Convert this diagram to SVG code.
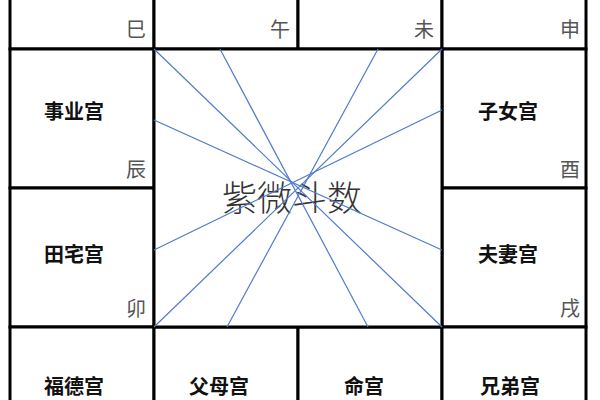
<svg xmlns="http://www.w3.org/2000/svg" width="600" height="400" viewBox="0 0 600 400">
<style>
.cell{fill:#fff;stroke:#000;stroke-width:3}
.name{font-family:"Noto Sans CJK SC","Noto Sans",sans-serif;font-size:20px;font-weight:700;fill:#111;text-anchor:middle}
.br{font-family:"Noto Sans CJK SC","Noto Sans",sans-serif;font-size:20px;font-weight:400;fill:#555;text-anchor:end}
.title{font-family:"Noto Sans CJK SC","Noto Sans",sans-serif;font-size:35px;font-weight:300;fill:#333;text-anchor:middle}
.ln{stroke:#4f7bcb;stroke-width:1.2;fill:none}
</style>
<rect width="600" height="400" fill="#fff"/>
<g id="si"><rect class="cell" x="10" y="-10" width="144" height="59"/><text class="br" x="146" y="37">巳</text></g>
<g id="wu"><rect class="cell" x="154" y="-10" width="144" height="59"/><text class="br" x="290" y="37">午</text></g>
<g id="wei"><rect class="cell" x="298" y="-10" width="144" height="59"/><text class="br" x="434" y="37">未</text></g>
<g id="shen"><rect class="cell" x="442" y="-10" width="144" height="59"/><text class="br" x="580" y="37">申</text></g>
<g id="chen"><rect class="cell" x="10" y="49" width="144" height="139"/><text class="name" x="74" y="119">事业宫</text><text class="br" x="146" y="177">辰</text></g>
<g id="you"><rect class="cell" x="442" y="49" width="144" height="139"/><text class="name" x="508" y="119">子女宫</text><text class="br" x="580" y="177">酉</text></g>
<g id="mao"><rect class="cell" x="10" y="188" width="144" height="139"/><text class="name" x="74" y="262">田宅宫</text><text class="br" x="146" y="316">卯</text></g>
<g id="xu"><rect class="cell" x="442" y="188" width="144" height="139"/><text class="name" x="508" y="262">夫妻宫</text><text class="br" x="580" y="316">戌</text></g>
<g id="fude"><rect class="cell" x="10" y="327" width="144" height="90"/><text class="name" x="74" y="394">福德宫</text></g>
<g id="fumu"><rect class="cell" x="154" y="327" width="144" height="90"/><text class="name" x="219" y="394">父母宫</text></g>
<g id="ming"><rect class="cell" x="298" y="327" width="144" height="90"/><text class="name" x="364" y="394">命宫</text></g>
<g id="xiongdi"><rect class="cell" x="442" y="327" width="144" height="90"/><text class="name" x="510" y="394">兄弟宫</text></g>
<g id="center"><rect class="cell" x="154" y="49" width="288" height="278"/><text class="title" x="292" y="211">紫微斗数</text></g>
<g id="connectors">
<line class="ln" x1="154" y1="49" x2="442" y2="327"/>
<line class="ln" x1="220" y1="49" x2="368" y2="327"/>
<line class="ln" x1="378" y1="49" x2="227" y2="327"/>
<line class="ln" x1="442" y1="49" x2="154" y2="327"/>
<line class="ln" x1="154" y1="120" x2="442" y2="250"/>
<line class="ln" x1="442" y1="110" x2="154" y2="250"/>
</g>
</svg>
